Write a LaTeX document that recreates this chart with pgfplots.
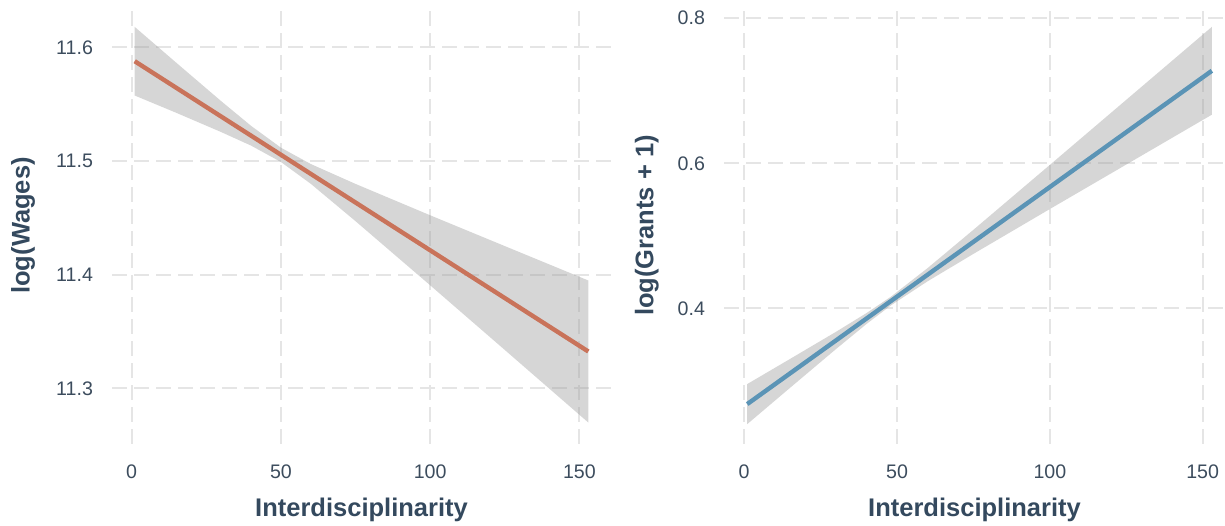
\documentclass[border=0pt]{standalone}
\usepackage{pgfplots}
\pgfplotsset{compat=1.18}
\usepackage{fontspec}
\setmainfont{Liberation Sans}
\definecolor{titlecol}{HTML}{34495E}
\definecolor{tickcol}{HTML}{3C4C5D}
\definecolor{gridcol}{HTML}{E5E5E5}
\definecolor{ribbon}{HTML}{999999}
\definecolor{orangeline}{HTML}{C9735A}
\definecolor{blueline}{HTML}{5B94B6}
\pgfplotsset{
  panel/.style={
    scale only axis,
    height=218.5pt,
    axis line style={draw=none},
    major tick length=0pt,
    tick style={draw=none},
    grid=major,
    major grid style={color=gridcol, line width=1pt, dash pattern=on 7.5pt off 3.5pt},
    xtick={0,50,100,150},
    /pgf/number format/assume math mode=true,
    /pgf/number format/fixed,
    ticklabel style={font=\fontsize{9.8}{11}\selectfont, text=tickcol},
    yticklabel style={xshift=-6pt},
    xticklabel style={yshift=-7pt},
    label style={font=\fontsize{12.75}{14}\selectfont\bfseries, text=titlecol},
    xlabel={Interdisciplinarity},
    xlabel style={at={(axis description cs:0.5,-0.151)}, anchor=center},
    clip=false,
  }
}
\begin{document}
\begin{tikzpicture}
\path[use as bounding box] (0,0) rectangle (612.5pt,262.5pt);
\begin{axis}[panel,
  at={(56pt,40.5pt)}, anchor=south west,
  width=249.5pt,
  xmin=-6.6, xmax=160.6, ymin=11.251, ymax=11.6356,
  ytick={11.3,11.4,11.5,11.6},
  ylabel={log(Wages)},
  ylabel style={at={(axis description cs:-0.178,0.5)}, anchor=center},
]
\addplot[draw=none, fill=ribbon, fill opacity=0.4] coordinates {
(1,11.6181) (15,11.5864) (30,11.5527) (40,11.5310) (50,11.5118) (60,11.4974) (75,11.4799) (100,11.4523) (125,11.4252) (153,11.3949)
(153,11.2699) (125,11.3338) (100,11.3907) (75,11.4471) (60,11.4800) (50,11.4992) (40,11.5136) (30,11.5255) (15,11.5424) (1,11.5577)
} -- cycle;
\addplot[color=orangeline, line width=2.2pt] coordinates {(1,11.5879) (153,11.3324)};
\end{axis}
\begin{axis}[panel,
  at={(362pt,40.5pt)}, anchor=south west,
  width=250.5pt,
  xmin=-6.6, xmax=157.3, ymin=0.2132, ymax=0.8154,
  ytick={0.4,0.6,0.8},
  /pgf/number format/precision=1,
  ylabel={log(Grants + 1)},
  ylabel style={at={(axis description cs:-0.154,0.5)}, anchor=center},
]
\addplot[draw=none, fill=ribbon, fill opacity=0.4] coordinates {
(1,0.2958) (15,0.3304) (30,0.3677) (40,0.3936) (48,0.4162) (60,0.4556) (75,0.5084) (100,0.5978) (125,0.6875) (153,0.7880)
(153,0.6670) (125,0.5983) (100,0.5370) (75,0.4752) (60,0.4374) (48,0.4042) (40,0.3785) (30,0.3439) (15,0.2906) (1,0.2406)
} -- cycle;
\addplot[color=blueline, line width=2.2pt] coordinates {(1,0.2682) (153,0.7275)};
\end{axis}
\end{tikzpicture}
\end{document}
